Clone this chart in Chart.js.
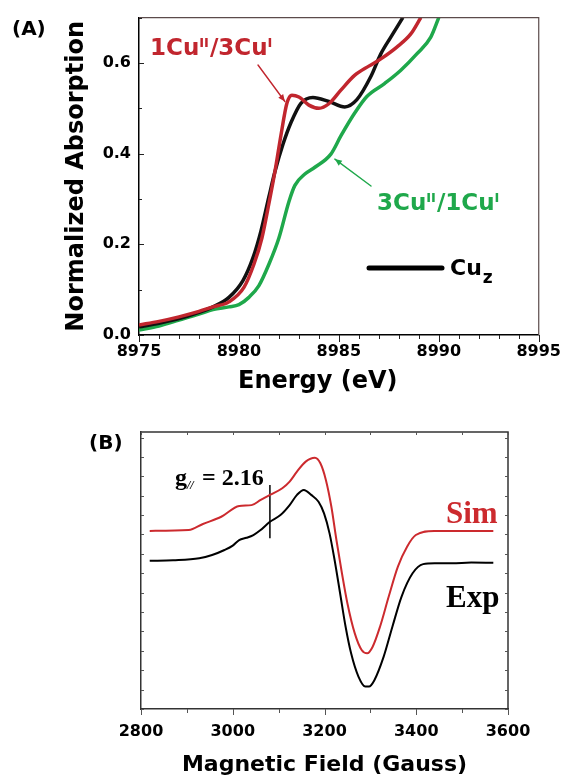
<!DOCTYPE html>
<html><head><meta charset="utf-8">
<script src="https://cdn.jsdelivr.net/npm/chart.js@4.4.1/dist/chart.umd.min.js"></script>
<style>
html,body{margin:0;padding:0;background:#fff}
body{width:568px;height:778px;position:relative;overflow:hidden}
canvas{position:absolute;left:0}
#cA{top:0}#cB{top:400px}
</style></head><body>
<canvas id="cA" width="568" height="400"></canvas>
<canvas id="cB" width="568" height="378"></canvas>
<script>
// ---------- Panel A : XANES ----------
const xTicksA = [8975, 8980, 8985, 8990, 8995];
const yTicksA = [0.0, 0.2, 0.4, 0.6];
const eCuz = [8975, 8976, 8977, 8978, 8978.7, 8979.5, 8980.2, 8980.7, 8981.1, 8981.5, 8981.8, 8982.2, 8982.6, 8983.1, 8983.7, 8984.5, 8985.3, 8985.9, 8986.6, 8987.1, 8987.6, 8988.2];
const aCuz = [0.018, 0.026, 0.036, 0.05, 0.062, 0.083, 0.12, 0.17, 0.229, 0.305, 0.36, 0.42, 0.468, 0.511, 0.524, 0.515, 0.503, 0.519, 0.57, 0.62, 0.657, 0.70];
const eRed = [8975, 8976, 8977, 8978, 8978.7, 8979.5, 8980.25, 8980.75, 8981.15, 8981.5, 8981.8, 8982.1, 8982.4, 8982.65, 8983.0, 8983.5, 8984.0, 8984.5, 8985.1, 8985.8, 8986.5, 8987.1, 8987.9, 8988.6, 8989.1];
const aRed = [0.022, 0.03, 0.04, 0.052, 0.062, 0.073, 0.105, 0.156, 0.214, 0.29, 0.36, 0.44, 0.511, 0.529, 0.525, 0.507, 0.50, 0.51, 0.54, 0.573, 0.593, 0.609, 0.635, 0.664, 0.70];
const eGreen = [8975, 8976, 8977, 8978, 8978.7, 8979.5, 8980, 8980.5, 8981, 8981.5, 8982, 8982.5, 8982.8, 8983.3, 8983.8, 8984.6, 8985.1, 8985.8, 8986.4, 8987.3, 8988.1, 8988.9, 8989.6, 8990];
const aGreen = [0.011, 0.02, 0.033, 0.046, 0.056, 0.062, 0.067, 0.083, 0.109, 0.156, 0.214, 0.294, 0.33, 0.355, 0.37, 0.399, 0.439, 0.49, 0.526, 0.555, 0.584, 0.62, 0.657, 0.70];

// ---------- Panel B : EPR ----------
const xTicksB = [2800, 3000, 3200, 3400, 3600];
const fSim = [2819, 2904, 2935, 2975, 3014, 3041, 3061, 3081, 3108, 3124, 3140, 3159, 3179, 3191, 3203, 3215, 3226, 3238, 3250, 3266, 3281, 3293, 3305, 3321, 3340, 3360, 3380, 3399, 3439, 3500, 3568];
const iSim = [64.3, 64.6, 66.8, 69.4, 73.3, 73.6, 75.5, 77.3, 79.7, 82.1, 85.7, 89.3, 90.7, 88.7, 82.7, 73.0, 61.0, 49.0, 38.1, 27.3, 21.3, 20.1, 22.5, 29.7, 40.6, 51.4, 58.6, 62.8, 64.3, 64.3, 64.3];
const fExp = [2819, 2870, 2927, 2955, 2982, 3000, 3014, 3030, 3045, 3060, 3081, 3104, 3124, 3140, 3155, 3171, 3187, 3199, 3211, 3222, 3234, 3246, 3258, 3274, 3289, 3297, 3309, 3329, 3348, 3368, 3392, 3415, 3440, 3478, 3520, 3568];
const iExp = [53.5, 53.7, 54.4, 55.6, 57.4, 59.0, 61.0, 61.8, 62.8, 64.5, 67.6, 70.0, 73.6, 77.3, 79.1, 77.3, 74.8, 70.6, 63.4, 53.8, 41.8, 29.7, 20.1, 11.7, 8.1, 8.1, 10.5, 18.9, 29.7, 40.6, 49.0, 52.3, 52.6, 52.6, 52.9, 52.8];
const gMarkField = [3081, 3081];
const gMarkY = [61.6, 80.9];

const sans = "'DejaVu Sans', 'Liberation Sans', sans-serif";
const serif = "'Liberation Serif', 'Times New Roman', serif";
const RED_A = '#c1262e', GREEN_A = '#1fa84b', RED_B = '#cc2a2e';

function pts(xs, ys) { return xs.map((x, i) => ({x: x, y: ys[i]})); }

function makeFrameTicks(o) {
  return {
    id: 'frameTicks',
    afterDraw(chart) {
      const {ctx, chartArea: ca, scales: {x, y}} = chart;
      ctx.save();
      ctx.strokeStyle = o.frameColor; ctx.lineWidth = o.frameWidth;
      ctx.beginPath();
      ctx.moveTo(ca.left, ca.top); ctx.lineTo(ca.right, ca.top); ctx.lineTo(ca.right, ca.bottom);
      ctx.stroke();
      ctx.strokeStyle = o.tickColor; ctx.lineWidth = 1;
      ctx.beginPath();
      const nx = Math.round((x.max - x.min) / o.xMinor);
      for (let i = 0; i <= nx; i++) {
        const v = x.min + i * o.xMinor;
        const px = Math.round(x.getPixelForValue(v)) + 0.5;
        const r = v / o.xMajor;
        const major = Math.abs(r - Math.round(r)) < 1e-6;
        const len = major ? o.xMajorLen : o.xMinorLen;
        ctx.moveTo(px, ca.bottom); ctx.lineTo(px, ca.bottom + o.xDir * len);
        if (o.topLen) { ctx.moveTo(px, ca.top); ctx.lineTo(px, ca.top + o.topLen); }
      }
      const ny = Math.round((y.max - y.min) / o.yMinor);
      for (let i = 0; i <= ny; i++) {
        const v = y.min + i * o.yMinor;
        const py = Math.round(y.getPixelForValue(v)) + 0.5;
        const r = v / o.yMajor;
        const major = Math.abs(r - Math.round(r)) < 1e-6;
        const len = major ? o.yMajorLen : o.yMinorLen;
        ctx.moveTo(ca.left, py); ctx.lineTo(ca.left + len, py);
        if (o.rightLen) { ctx.moveTo(ca.right, py); ctx.lineTo(ca.right - o.rightLen, py); }
      }
      ctx.stroke();
      ctx.restore();
    }
  };
}

function arrow(ctx, x0, y0, x1, y1, color) {
  ctx.save();
  ctx.strokeStyle = color; ctx.fillStyle = color; ctx.lineWidth = 1.4;
  ctx.beginPath(); ctx.moveTo(x0, y0); ctx.lineTo(x1, y1); ctx.stroke();
  const a = Math.atan2(y1 - y0, x1 - x0), L = 7, W = 3;
  ctx.beginPath();
  ctx.moveTo(x1, y1);
  ctx.lineTo(x1 - L * Math.cos(a) + W * Math.sin(a), y1 - L * Math.sin(a) - W * Math.cos(a));
  ctx.lineTo(x1 - L * Math.cos(a) - W * Math.sin(a), y1 - L * Math.sin(a) + W * Math.cos(a));
  ctx.closePath(); ctx.fill();
  ctx.restore();
}

function supText(ctx, parts, x, y, big, small, color) {
  ctx.fillStyle = color;
  ctx.textAlign = 'left'; ctx.textBaseline = 'alphabetic';
  let cx = x;
  for (const [t, sup] of parts) {
    ctx.font = 'bold ' + (sup ? small : big) + 'px ' + sans;
    ctx.fillText(t, cx, sup ? y - 8 : y);
    cx += ctx.measureText(t).width + (sup ? 1 : 0);
  }
}

const annotA = {
  id: 'annotA',
  afterDraw(chart) {
    const {ctx, scales: {x, y}} = chart;
    ctx.save();
    ctx.textAlign = 'left'; ctx.textBaseline = 'alphabetic';
    ctx.fillStyle = '#000';
    ctx.font = 'bold 20px ' + sans;
    ctx.fillText('(A)', 12, 35);
    ctx.font = 'bold 24px ' + sans;
    ctx.fillText('Energy (eV)', 238, 388);
    // legend
    ctx.strokeStyle = '#000'; ctx.lineWidth = 5; ctx.lineCap = 'round';
    ctx.beginPath(); ctx.moveTo(369, 268); ctx.lineTo(442, 268); ctx.stroke();
    ctx.font = 'bold 22px ' + sans;
    ctx.fillText('Cu', 450, 275);
    const w = ctx.measureText('Cu').width;
    ctx.font = 'bold 17px ' + sans;
    ctx.fillText('z', 450 + w + 1, 283);
    // labels
    supText(ctx, [['1Cu', 0], ['II', 1], ['/3Cu', 0], ['I', 1]], 150, 55, 23, 13, RED_A);
    arrow(ctx, 258, 65, x.getPixelForValue(8982.3), y.getPixelForValue(0.515), RED_A);
    supText(ctx, [['3Cu', 0], ['II', 1], ['/1Cu', 0], ['I', 1]], 377, 210, 23, 13, GREEN_A);
    arrow(ctx, 371, 186, x.getPixelForValue(8984.8), y.getPixelForValue(0.388), GREEN_A);
    ctx.restore();
  }
};

const annotB = {
  id: 'annotB',
  afterDraw(chart) {
    const {ctx} = chart;
    ctx.save();
    ctx.textAlign = 'left'; ctx.textBaseline = 'alphabetic';
    ctx.fillStyle = '#000';
    ctx.font = 'bold 20px ' + sans;
    ctx.fillText('(B)', 89, 49);
    ctx.font = 'bold 24px ' + serif;
    ctx.fillText('g', 175, 85);
    ctx.font = 'bold italic 12px ' + serif;
    ctx.fillText('//', 187, 89);
    ctx.font = 'bold 24px ' + serif;
    ctx.fillText('= 2.16', 202, 85);
    ctx.font = 'bold 31px ' + serif;
    ctx.fillStyle = RED_B;
    ctx.fillText('Sim', 446, 123);
    ctx.fillStyle = '#000';
    ctx.fillText('Exp', 446, 207);
    ctx.restore();
  }
};

const lineDS = (label, xs, ys, color, width, order, tension) => ({
  label, data: pts(xs, ys), borderColor: color, backgroundColor: color,
  borderWidth: width, pointRadius: 0, fill: false, order,
  tension: tension, cubicInterpolationMode: tension ? 'monotone' : 'default'
});

new Chart(document.getElementById('cA'), {
  type: 'line',
  data: {
    datasets: [
      lineDS('1CuII/3CuI', eRed, aRed, RED_A, 3.5, 0, 0.4),
      lineDS('Cuz', eCuz, aCuz, '#111', 3.5, 1, 0.4),
      lineDS('3CuII/1CuI', eGreen, aGreen, GREEN_A, 3.5, 2, 0.4)
    ]
  },
  options: {
    responsive: false, animation: false, devicePixelRatio: 1,
    layout: {padding: {left: 0, right: 25, top: 14, bottom: 0}},
    plugins: {legend: {display: false}, tooltip: {enabled: false}},
    scales: {
      x: {
        type: 'linear', min: 8975, max: 8995,
        afterBuildTicks: s => { s.ticks = xTicksA.map(v => ({value: v})); },
        afterFit: s => { s.height = 65; },
        grid: {display: false, drawTicks: false},
        border: {display: true, color: '#000', width: 1.5},
        ticks: {padding: 7, color: '#000', maxRotation: 0, autoSkip: false,
          font: {family: sans, size: 16, weight: 'bold'}, callback: v => String(v)}
      },
      y: {
        type: 'linear', min: 0, max: 0.7,
        afterBuildTicks: s => { s.ticks = yTicksA.map(v => ({value: v})); },
        afterFit: s => { s.width = 139; },
        grid: {display: false, drawTicks: false},
        border: {display: true, color: '#000', width: 1.5},
        ticks: {padding: 8, color: '#000', font: {family: sans, size: 16, weight: 'bold'},
          callback: v => Number(v).toFixed(1)},
        title: {display: true, text: 'Normalized Absorption', color: '#000',
          font: {family: sans, size: 24, weight: 'bold'}, padding: {top: 62, bottom: 0}}
      }
    }
  },
  plugins: [makeFrameTicks({frameColor: '#5b4b4b', frameWidth: 1.2, tickColor: '#222',
    xMinor: 1, xMajor: 5, xMinorLen: 4, xMajorLen: 7, xDir: 1,
    yMinor: 0.1, yMajor: 0.2, yMinorLen: 3, yMajorLen: 5}), annotA]
});

new Chart(document.getElementById('cB'), {
  type: 'line',
  data: {
    datasets: [
      lineDS('Sim', fSim, iSim, RED_B, 2, 0, 0.3),
      lineDS('Exp', fExp, iExp, '#000', 2, 1, 0.3),
      lineDS('g// = 2.16', gMarkField, gMarkY, '#000', 1.5, 2, 0)
    ]
  },
  options: {
    responsive: false, animation: false, devicePixelRatio: 1,
    layout: {padding: {left: 0, right: 60, top: 32, bottom: 0}},
    plugins: {legend: {display: false}, tooltip: {enabled: false}},
    scales: {
      x: {
        type: 'linear', min: 2800, max: 3600,
        afterBuildTicks: s => { s.ticks = xTicksB.map(v => ({value: v})); },
        afterFit: s => { s.height = 69; },
        grid: {display: false, drawTicks: false},
        border: {display: true, color: '#333', width: 1.5},
        ticks: {padding: 13, color: '#000', maxRotation: 0, autoSkip: false,
          font: {family: sans, size: 16, weight: 'bold'}, callback: v => String(v)},
        title: {display: true, text: 'Magnetic Field (Gauss)', color: '#000',
          font: {family: sans, size: 22, weight: 'bold'}, padding: {top: 0, bottom: 0}}
      },
      y: {
        type: 'linear', min: 0, max: 100,
        afterFit: s => { s.width = 141; },
        grid: {display: false, drawTicks: false},
        border: {display: true, color: '#333', width: 1.5},
        ticks: {display: false}
      }
    }
  },
  plugins: [makeFrameTicks({frameColor: '#333', frameWidth: 1.5, tickColor: '#555',
    xMinor: 100, xMajor: 200, xMinorLen: 4, xMajorLen: 6, xDir: 1, topLen: 3,
    yMinor: 7, yMajor: 7, yMinorLen: 3, yMajorLen: 3, rightLen: 3}), annotB]
});
</script>
</body></html>
